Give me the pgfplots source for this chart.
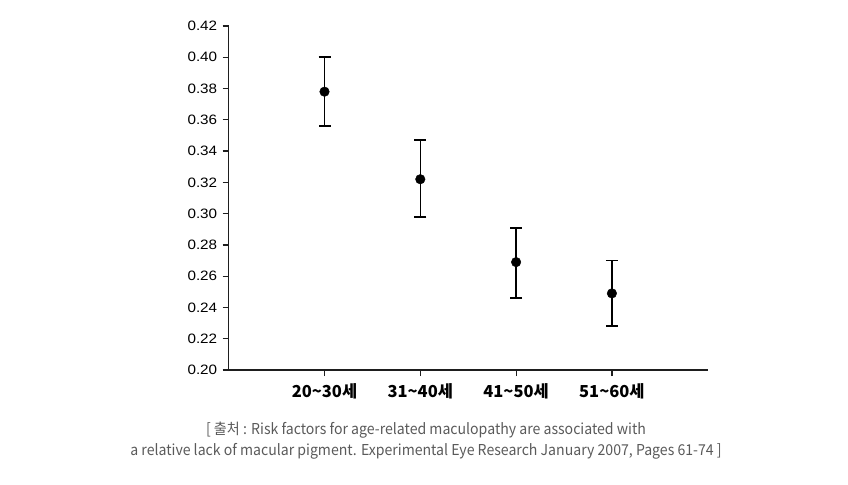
\documentclass[border=0pt]{standalone}
\usepackage{pgfplots}
\pgfplotsset{compat=1.18}
\usepackage{fontspec}
\setmainfont{Liberation Sans}
\newfontfamily\numfont[FakeStretch=1.12]{Liberation Sans}
\newfontfamily\kr{Noto Sans CJK KR}
\newfontfamily\krcap[FakeStretch=0.94]{Noto Sans CJK KR}
\definecolor{axcol}{HTML}{1E1E1E}
\definecolor{capcol}{HTML}{5A5A5A}
\begin{document}
\begin{tikzpicture}
\path[use as bounding box] (0,0) rectangle (848bp,485bp);
\begin{axis}[
  at={(228.7bp,115bp)}, anchor=south west,
  scale only axis, width=479bp, height=344bp,
  xmin=-1, xmax=4, ymin=0.20, ymax=0.42,
  axis lines=left, axis line style={-, line width=1.4bp, axcol},
  tick align=outside, major tick length=6bp,
  every tick/.style={line width=1.2bp, axcol},
  xtick={0,1,2,3},
  xticklabels={20\textasciitilde30세,31\textasciitilde40세,41\textasciitilde50세,51\textasciitilde60세},
  x tick label style={font=\kr\bfseries\fontsize{16.5bp}{18bp}\selectfont, yshift=-4bp},
  ytick={0.20,0.22,0.24,0.26,0.28,0.30,0.32,0.34,0.36,0.38,0.40,0.42},
  yticklabel style={/pgf/number format/fixed, /pgf/number format/fixed zerofill, /pgf/number format/precision=2, font=\numfont\fontsize{13.6bp}{16bp}\selectfont, xshift=-2bp},
  /pgf/number format/assume math mode=true,
  clip=false,
]
\addplot[only marks, mark=*, mark size=4.8bp, color=black,
  error bars/.cd, y dir=both, y explicit,
  error bar style={line width=1.6bp, black},
  error mark options={rotate=90, mark size=6bp, line width=1.6bp, black}]
  coordinates {
  (0,0.378) += (0,0.022) -= (0,0.022)
  (1,0.322) += (0,0.025) -= (0,0.024)
  (2,0.269) += (0,0.022) -= (0,0.023)
  (3,0.249) += (0,0.021) -= (0,0.021)
  };
\end{axis}
\node[align=center, text=capcol, font=\krcap\fontsize{15bp}{21bp}\selectfont] at (426bp,44bp)
  {[ 출처 : Risk factors for age-related maculopathy are associated with\\
   a relative lack of macular pigment. Experimental Eye Research January 2007, Pages 61-74 ]};
\end{tikzpicture}
\end{document}
